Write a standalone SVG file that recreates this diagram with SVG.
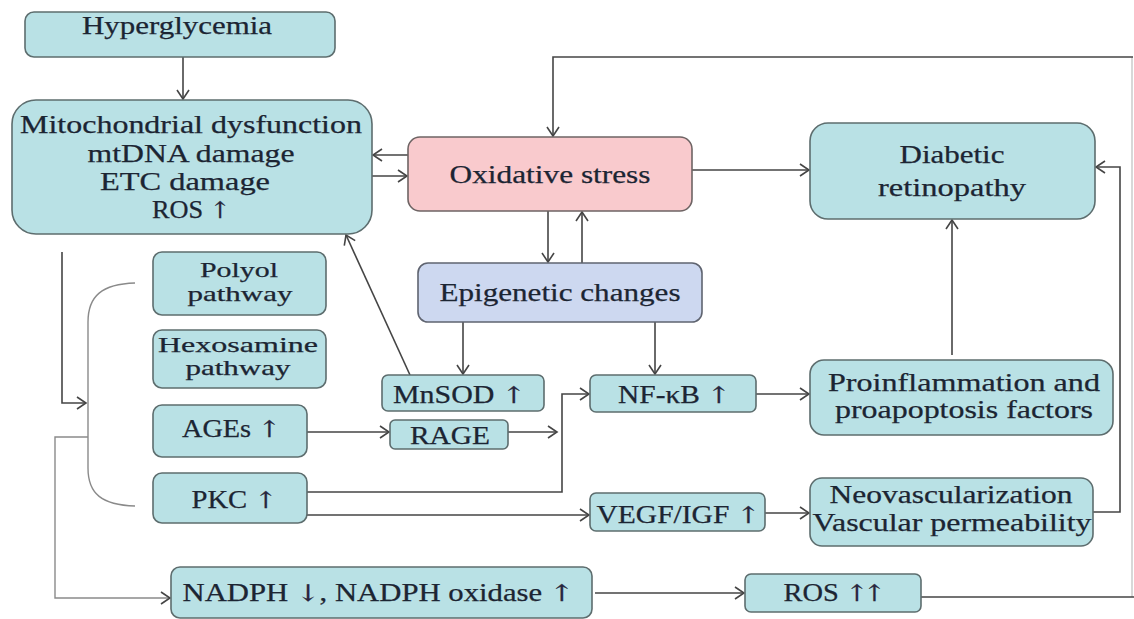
<svg xmlns="http://www.w3.org/2000/svg" width="1134" height="619" viewBox="0 0 1134 619">
<style>
.bx{fill:#b9e1e5;stroke:#5d6d6e;stroke-width:1.6}
.pk{fill:#f9cacd;stroke:#6e6464;stroke-width:1.6}
.lv{fill:#cdd8f0;stroke:#5f6470;stroke-width:1.6}
text{font-family:"Liberation Serif","Times New Roman",serif;font-size:25px;fill:#1c2533;text-anchor:middle;stroke:#1c2533;stroke-width:0.25}
.sm{font-size:21px}
.ar{font-family:"DejaVu Serif",serif;font-size:23px;fill:#2a2540}
.c{fill:none;stroke:#454545;stroke-width:1.6}
.f{fill:none;stroke:#c8c8c8;stroke-width:1.4}
.g{fill:none;stroke:#8a8a8a;stroke-width:1.4}
.a{marker-end:url(#ah)}
</style>
<defs>
<marker id="ah" markerUnits="userSpaceOnUse" markerWidth="12" markerHeight="14" refX="10" refY="7" orient="auto">
<path d="M1,1 L10,7 L1,13" fill="none" stroke="#454545" stroke-width="1.6"/>
</marker>
</defs>
<rect width="1134" height="619" fill="#ffffff"/>

<g id="connectors">
<path class="c a" d="M183,57 V99"/>
<path class="c a" d="M408,155 H373"/>
<path class="c a" d="M372,176 H407"/>
<path class="c a" d="M692,170 H809"/>
<path class="f" d="M1132,597 V57"/>
<path class="c a" d="M1133,57 H553 V136"/>
<path class="c" d="M920,597 H1134"/>
<path class="c a" d="M1093,512 H1120 V167 H1096"/>
<path class="c a" d="M952,355 V220"/>
<path class="c a" d="M548,211 V262"/>
<path class="c a" d="M582,263 V212"/>
<path class="c a" d="M463,322 V374"/>
<path class="c a" d="M655,322 V374"/>
<path class="c a" d="M410,375 L346,235"/>
<path class="c a" d="M307,432 H389"/>
<path class="c a" d="M508,432 H557"/>
<path class="c a" d="M307,492 H562 V394 H589"/>
<path class="c a" d="M307,515 H589"/>
<path class="c a" d="M756,394 H809"/>
<path class="c a" d="M765,513 H809"/>
<path class="c a" d="M595,593 H744"/>
<path class="c a" d="M62,252 V403 H86"/>
<path class="g" d="M135,283 C102,284 88,296 88,322 L88,468 C88,494 102,505 135,506"/>
<path class="g a" d="M88,437 H55 V598 H170"/>
</g>

<g id="hyperglycemia"><rect class="bx" x="25" y="12" width="310" height="45" rx="9"/><text x="177" y="34" textLength="190" lengthAdjust="spacingAndGlyphs">Hyperglycemia</text></g>

<g id="mito"><rect class="bx" x="12" y="100" width="360" height="134" rx="24"/>
<text x="191" y="133" textLength="342" lengthAdjust="spacingAndGlyphs">Mitochondrial dysfunction</text>
<text x="191" y="162" textLength="207" lengthAdjust="spacingAndGlyphs">mtDNA damage</text>
<text x="185" y="190" textLength="170" lengthAdjust="spacingAndGlyphs">ETC damage</text>
<text x="191" y="218" textLength="78" lengthAdjust="spacingAndGlyphs">ROS <tspan class="ar">↑</tspan></text></g>

<g id="oxidative"><rect class="pk" x="408" y="137" width="284" height="74" rx="12"/><text x="550" y="183" textLength="201" lengthAdjust="spacingAndGlyphs">Oxidative stress</text></g>

<g id="retinopathy"><rect class="bx" x="810" y="123" width="285" height="96" rx="18"/>
<text x="952" y="163" textLength="105" lengthAdjust="spacingAndGlyphs">Diabetic</text>
<text x="952" y="196" textLength="148" lengthAdjust="spacingAndGlyphs">retinopathy</text></g>

<g id="epigenetic"><rect class="lv" x="418" y="263" width="284" height="59" rx="10"/><text x="560" y="301" textLength="241" lengthAdjust="spacingAndGlyphs">Epigenetic changes</text></g>

<g id="polyol"><rect class="bx" x="153" y="252" width="173" height="63" rx="9"/>
<text class="sm" x="239" y="277" textLength="78" lengthAdjust="spacingAndGlyphs">Polyol</text>
<text class="sm" x="240" y="301" textLength="105" lengthAdjust="spacingAndGlyphs">pathway</text></g>

<g id="hexosamine"><rect class="bx" x="153" y="330" width="173" height="58" rx="9"/>
<text class="sm" x="238" y="352" textLength="160" lengthAdjust="spacingAndGlyphs">Hexosamine</text>
<text class="sm" x="238" y="375" textLength="105" lengthAdjust="spacingAndGlyphs">pathway</text></g>

<g id="mnsod"><rect class="bx" x="382" y="375" width="162" height="36" rx="6"/><text x="459" y="403" textLength="132" lengthAdjust="spacingAndGlyphs">MnSOD <tspan class="ar">↑</tspan></text></g>

<g id="nfkb"><rect class="bx" x="590" y="375" width="166" height="37" rx="6"/><text x="674" y="403" textLength="112" lengthAdjust="spacingAndGlyphs">NF-κB <tspan class="ar">↑</tspan></text></g>

<g id="proinflammation"><rect class="bx" x="810" y="360" width="303" height="75" rx="14"/>
<text x="964" y="391" textLength="272" lengthAdjust="spacingAndGlyphs">Proinflammation and</text>
<text x="964" y="418" textLength="258" lengthAdjust="spacingAndGlyphs">proapoptosis factors</text></g>

<g id="ages"><rect class="bx" x="153" y="405" width="154" height="52" rx="9"/><text x="231" y="437" textLength="98" lengthAdjust="spacingAndGlyphs">AGEs <tspan class="ar">↑</tspan></text></g>

<g id="rage"><rect class="bx" x="390" y="420" width="118" height="29" rx="5"/><text x="450" y="444" textLength="80" lengthAdjust="spacingAndGlyphs">RAGE</text></g>

<g id="pkc"><rect class="bx" x="153" y="473" width="154" height="50" rx="9"/><text x="234" y="508" textLength="85" lengthAdjust="spacingAndGlyphs">PKC <tspan class="ar">↑</tspan></text></g>

<g id="vegf"><rect class="bx" x="590" y="493" width="175" height="38" rx="6"/><text x="678" y="523" textLength="163" lengthAdjust="spacingAndGlyphs">VEGF/IGF <tspan class="ar">↑</tspan></text></g>

<g id="neovascularization"><rect class="bx" x="810" y="478" width="283" height="68" rx="12"/>
<text x="951" y="503" textLength="243" lengthAdjust="spacingAndGlyphs">Neovascularization</text>
<text x="952" y="531" textLength="279" lengthAdjust="spacingAndGlyphs">Vascular permeability</text></g>

<g id="nadph"><rect class="bx" x="171" y="567" width="421" height="51" rx="9"/><text x="378" y="601" textLength="391" lengthAdjust="spacingAndGlyphs">NADPH <tspan class="ar">↓</tspan>, NADPH oxidase <tspan class="ar">↑</tspan></text></g>

<g id="ros2"><rect class="bx" x="745" y="574" width="176" height="38" rx="6"/><text x="832" y="601" textLength="97" lengthAdjust="spacingAndGlyphs">ROS <tspan class="ar" letter-spacing="-4">↑↑</tspan></text></g>
</svg>
